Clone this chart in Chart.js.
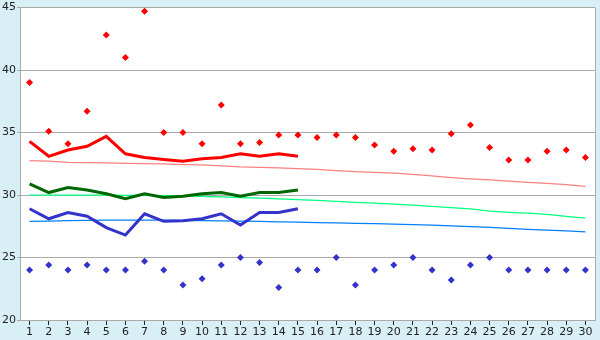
<!DOCTYPE html>
<html>
<head>
<meta charset="utf-8">
<script src="https://cdn.jsdelivr.net/npm/chart.js@4/dist/chart.umd.min.js"></script>
<style>
  html, body { margin: 0; padding: 0; background: #d9eff6; }
  #wrap { width: 600px; height: 340px; }
</style>
</head>
<body>
<div id="wrap"><canvas id="chart" width="600" height="340"></canvas></div>
<script>
var labels = [];
for (var i = 1; i <= 30; i++) labels.push(String(i));

// scattered daily readings
var redPoints = [39.0, 35.1, 34.1, 36.7, 42.8, 41.0, 44.7, 35.0, 35.0, 34.1,
                 37.2, 34.1, 34.2, 34.8, 34.8, 34.6, 34.8, 34.6, 34.0, 33.5,
                 33.7, 33.6, 34.9, 35.6, 33.8, 32.8, 32.8, 33.5, 33.6, 33.0];
var bluePoints = [24.0, 24.4, 24.0, 24.4, 24.0, 24.0, 24.7, 24.0, 22.8, 23.3,
                  24.4, 25.0, 24.6, 22.6, 24.0, 24.0, 25.0, 22.8, 24.0, 24.4,
                  25.0, 24.0, 23.2, 24.4, 25.0, 24.0, 24.0, 24.0, 24.0, 24.0];

// thick lines (first 15 days)
var redLine = [34.3, 33.1, 33.6, 33.9, 34.7, 33.3, 33.0, 32.85, 32.7, 32.9,
               33.0, 33.3, 33.1, 33.3, 33.1];
var greenLine = [30.9, 30.2, 30.6, 30.4, 30.1, 29.7, 30.1, 29.8, 29.9, 30.1,
                 30.2, 29.9, 30.2, 30.2, 30.4];
var blueLine = [28.9, 28.1, 28.6, 28.3, 27.4, 26.8, 28.5, 27.9, 27.95, 28.1,
                28.5, 27.6, 28.6, 28.6, 28.9];

// thin trend lines
var pinkTrend = [32.75, 32.72, 32.62, 32.6, 32.58, 32.53, 32.51, 32.49, 32.44, 32.42,
                 32.33, 32.25, 32.21, 32.18, 32.12, 32.06, 31.96, 31.88, 31.82, 31.76,
                 31.66, 31.53, 31.4, 31.3, 31.22, 31.12, 31.02, 30.93, 30.84, 30.7];
var greenTrend = [30.0, 30.0, 30.0, 30.0, 29.99, 29.98, 29.97, 29.95, 29.93, 29.9,
                  29.85, 29.8, 29.75, 29.69, 29.63, 29.57, 29.5, 29.42, 29.35, 29.27,
                  29.19, 29.1, 29.0, 28.9, 28.72, 28.62, 28.55, 28.45, 28.3, 28.15];
var blueTrend = [27.9, 27.92, 27.96, 27.98, 27.99, 28.0, 28.0, 27.99, 27.98, 27.96,
                 27.93, 27.91, 27.89, 27.86, 27.83, 27.8, 27.77, 27.74, 27.71, 27.67,
                 27.63, 27.59, 27.54, 27.47, 27.41, 27.33, 27.26, 27.2, 27.13, 27.05];

var yMin = 20, yMax = 45, yStep = 5;

var bgPlugin = {
    id: 'bg',
    beforeDraw: function(c) {
        var ctx = c.ctx, a = c.chartArea;
        ctx.save();
        ctx.fillStyle = '#d9eff6';
        ctx.fillRect(0, 0, c.width, c.height);
        ctx.fillStyle = '#ffffff';
        ctx.fillRect(a.left, a.top, a.right - a.left, a.bottom - a.top);
        ctx.restore();
    },
    afterDraw: function(c) {
        var ctx = c.ctx, a = c.chartArea;
        ctx.save();
        ctx.strokeStyle = '#aaaaaa';
        ctx.lineWidth = 1;
        ctx.beginPath();
        ctx.moveTo(a.right + 0.5, a.top);
        ctx.lineTo(a.right + 0.5, a.bottom);
        ctx.stroke();
        ctx.restore();
    }
};

function thick(data, color) {
    return { data: data, borderColor: color, backgroundColor: color, borderWidth: 3,
             pointRadius: 0, tension: 0, order: 2 };
}
function thin(data, color) {
    return { data: data, borderColor: color, backgroundColor: color, borderWidth: 1.3,
             pointRadius: 0, tension: 0, order: 3 };
}
function dots(data, color) {
    return { data: data, showLine: false, pointStyle: 'rectRot', pointRadius: 3.5,
             pointBorderWidth: 0, borderColor: color, backgroundColor: color, order: 1 };
}

var ctx = document.getElementById('chart').getContext('2d');
var chart = new Chart(ctx, {
    type: 'line',
    data: {
        labels: labels,
        datasets: [
            dots(redPoints, '#ff0000'),
            dots(bluePoints, '#3333cc'),
            thick(redLine, '#ff0000'),
            thick(greenLine, '#006600'),
            thick(blueLine, '#3333cc'),
            thin(pinkTrend, '#ff8080'),
            thin(greenTrend, '#00ff80'),
            thin(blueTrend, '#0080ff')
        ]
    },
    options: {
        responsive: false,
        animation: false,
        layout: { padding: { left: 0, right: 5, top: 5, bottom: 0 } },
        plugins: { legend: { display: false }, tooltip: { enabled: false } },
        scales: {
            x: {
                offset: true,
                grid: { drawOnChartArea: false, drawTicks: true, tickLength: 5, color: '#222222' },
                border: { color: '#aaaaaa' },
                ticks: { color: '#222222', font: { family: 'DejaVu Sans', size: 11 },
                         padding: 1, maxRotation: 0, autoSkip: false },
                afterFit: function(s) { s.height = 20; }
            },
            y: {
                min: yMin, max: yMax,
                grid: { color: '#aaaaaa', tickLength: 3 },
                border: { color: '#aaaaaa' },
                ticks: { stepSize: yStep, color: '#222222', font: { family: 'DejaVu Sans', size: 11 },
                         padding: 1 },
                afterFit: function(s) { s.width = 20; }
            }
        }
    },
    plugins: [bgPlugin]
});
</script>
</body>
</html>
